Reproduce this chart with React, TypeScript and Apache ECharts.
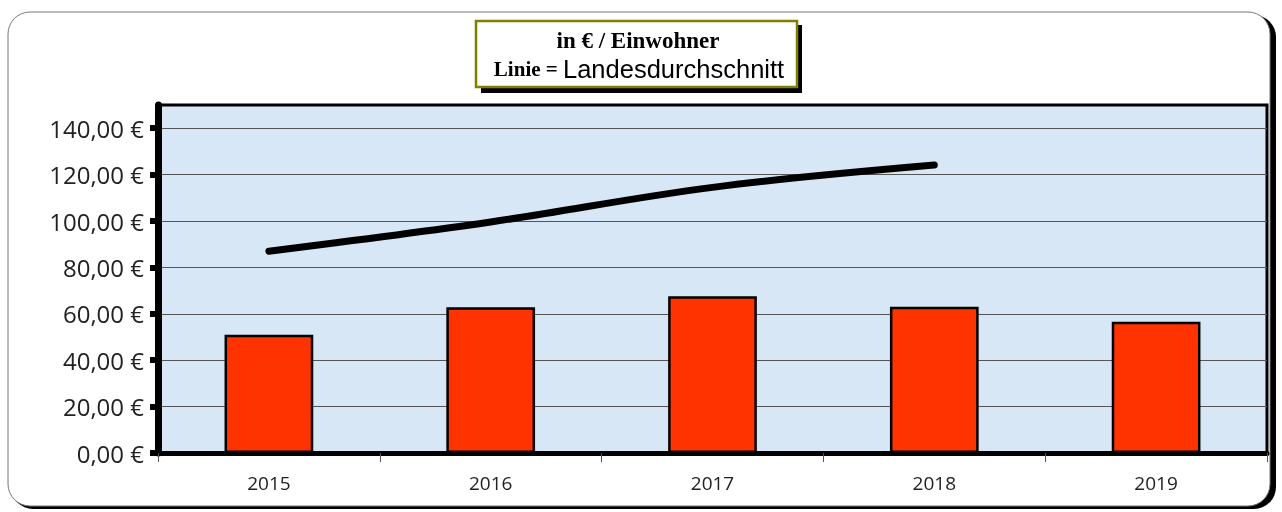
import React, { useEffect, useRef } from "react";
import * as echarts from "echarts";

const years = ["2015", "2016", "2017", "2018", "2019"];
const perCapita = [51.0, 62.8, 67.6, 63.0, 56.6];
const stateAverage = [87.0, 99.6, 114.5, 124.1, null];
const yTicks = [0, 20, 40, 60, 80, 100, 120, 140];
const titleLine1 = "in € / Einwohner";
const titleLine2a = "Linie = ";
const titleLine2b = "Landesdurchschnitt";

export default function App() {
  const ref = useRef<HTMLDivElement>(null);
  useEffect(() => {
    const chart = echarts.init(ref.current!, null, { renderer: "svg" });
    chart.setOption({
      animation: false,
      graphic: [
        { type: "rect", z: -10, shape: { x: 11, y: 15, width: 1265, height: 494, r: 22 }, style: { fill: "#000" } },
        { type: "rect", z: -9, shape: { x: 8, y: 12, width: 1262, height: 494, r: 22 }, style: { fill: "#fff", stroke: "#777", lineWidth: 1 } },
        { type: "rect", z: 10, shape: { x: 481, y: 25, width: 321, height: 68 }, style: { fill: "#000" } },
        { type: "rect", z: 11, shape: { x: 476, y: 21, width: 321, height: 66 }, style: { fill: "#fff", stroke: "#808000", lineWidth: 2.5 } },
        {
          type: "text", z: 12, x: 638, y: 40,
          style: { text: titleLine1, fontWeight: "bold", fontSize: 23, fontFamily: "Liberation Serif", fill: "#000", align: "center", verticalAlign: "middle" },
        },
        {
          type: "text", z: 12, x: 639, y: 69,
          style: {
            text: "{a|" + titleLine2a + "}{b|" + titleLine2b + "}",
            align: "center", verticalAlign: "middle",
            rich: {
              a: { fontWeight: "bold", fontSize: 21, fontFamily: "Liberation Serif", fill: "#000" },
              b: { fontSize: 25.5, fontFamily: "Liberation Sans", fill: "#000" },
            },
          },
        },
      ],
      grid: {
        left: 158, right: 15, top: 105, bottom: 59,
        show: true, backgroundColor: "#d8e7f5", borderColor: "#000", borderWidth: 3,
      },
      xAxis: {
        type: "category",
        data: years,
        axisLine: { lineStyle: { color: "#000", width: 5 } },
        axisTick: { show: true, alignWithLabel: false, length: 9, lineStyle: { color: "#555", width: 1 } },
        axisLabel: { fontFamily: "Open Sans", fontSize: 19, color: "#222", margin: 20 },
      },
      yAxis: {
        type: "value",
        min: 0, max: 150, interval: 20,
        axisLine: { show: true, lineStyle: { color: "#000", width: 7 } },
        axisTick: { show: true, length: 8, customValues: yTicks, lineStyle: { color: "#000", width: 6 } },
        splitLine: { lineStyle: { color: "#555", width: 1 } },
        axisLabel: {
          customValues: yTicks,
          fontFamily: "Open Sans", fontSize: 24, color: "#222", margin: 14,
          formatter: (v: number) => v.toFixed(2).replace(".", ",") + " €",
        },
      },
      series: [
        {
          type: "bar",
          data: perCapita,
          barWidth: "40%",
          itemStyle: { color: "#ff3300", borderColor: "#000", borderWidth: 2.5 },
        },
        {
          type: "line",
          data: stateAverage,
          smooth: 0.35,
          showSymbol: false,
          symbol: "none",
          lineStyle: { color: "#000", width: 7, cap: "round" },
        },
      ],
    });
    return () => chart.dispose();
  }, []);
  return <div ref={ref} style={{ position: "fixed", left: 0, top: 0, width: 1282, height: 512 }} />;
}
